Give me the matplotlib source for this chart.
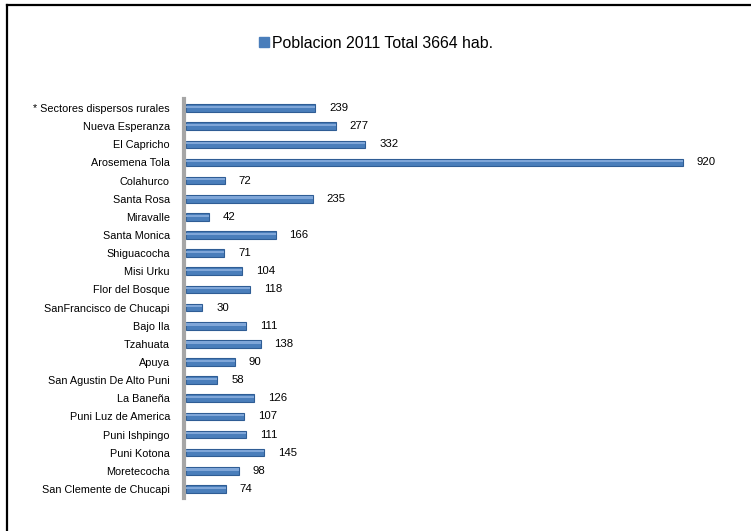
import matplotlib.pyplot as plt
from matplotlib.lines import Line2D
from matplotlib.patches import Patch

# sectores, de arriba hacia abajo
sectores = [
    "* Sectores dispersos rurales", "Nueva Esperanza", "El Capricho",
    "Arosemena Tola", "Colahurco", "Santa Rosa", "Miravalle",
    "Santa Monica", "Shiguacocha", "Misi Urku", "Flor del Bosque",
    "SanFrancisco de Chucapi", "Bajo Ila", "Tzahuata", "Apuya",
    "San Agustin De Alto Puni", "La Baneña", "Puni Luz de America",
    "Puni Ishpingo", "Puni Kotona", "Moretecocha", "San Clemente de Chucapi",
]
poblacion = [239, 277, 332, 920, 72, 235, 42, 166, 71, 104, 118,
             30, 111, 138, 90, 58, 126, 107, 111, 145, 98, 74]
serie = "Poblacion 2011 Total 3664 hab."

plt.rcParams['font.family'] = ['Liberation Sans', 'DejaVu Sans']

W, H = 751, 531
fig = plt.figure(figsize=(W / 100, H / 100), dpi=100)
ax = fig.add_axes([186 / W, 1 - 498 / H, 540 / W, 399 / H])

pos = list(range(len(sectores)))
ax.barh(pos, poblacion, height=0.42, color='#4a7ebb', edgecolor='#2f5d95', linewidth=0.8)
# brillo superior para simular el relieve
ax.barh([p - 0.07 for p in pos], poblacion, height=0.12, color='#7fa6d8', linewidth=0)

for p, v in zip(pos, poblacion):
    ax.annotate(str(v), (v, p), xytext=(10, 0), textcoords='offset points',
                va='center', ha='left', fontsize=8.2)

ax.tick_params(axis='y', length=0, pad=10, labelsize=7.8)
ax.set_xlim(0, 1000)
ax.set_ylim(len(sectores) - 0.5, -0.5)
ax.set_yticks(pos, labels=sectores)
for t in ax.get_yticklabels():
    t.set_fontsize(7.8)
ax.set_xticks([])
for s in ['top', 'right', 'bottom']:
    ax.spines[s].set_visible(False)
ax.spines['left'].set_color('#a6a6a6')
ax.spines['left'].set_linewidth(3)
ax.spines['left'].set_position(('axes', -0.004))

fig.legend(handles=[Patch(color='#4a7ebb')], labels=[serie], loc='center',
           bbox_to_anchor=(376 / W, 1 - 43 / H), frameon=False, fontsize=11.4,
           handlelength=0.6, handleheight=0.6, handletextpad=0.2)

# marco del grafico
fig.add_artist(Line2D([7 / W, 1], [1 - 5 / H, 1 - 5 / H], color='black', lw=1.6))
fig.add_artist(Line2D([7 / W, 7 / W], [0, 1 - 5 / H], color='black', lw=1.6))

fig.savefig('out.png', dpi=100)
